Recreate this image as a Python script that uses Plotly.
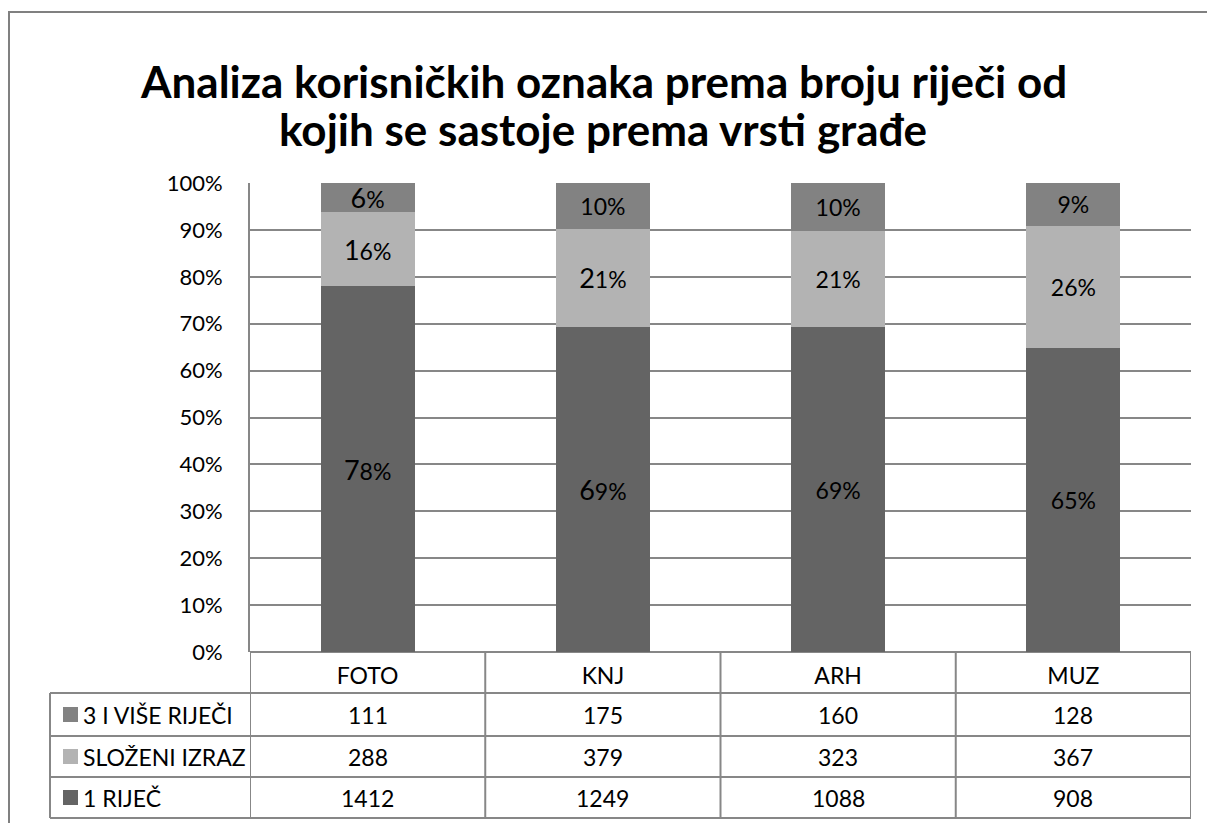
import plotly.graph_objects as go

# Source data: number of user tags by word count, per material type
categories = ["FOTO", "KNJ", "ARH", "MUZ"]
series_names = ["1 RIJEČ", "SLOŽENI IZRAZ", "3 I VIŠE RIJEČI"]
one_word = [1412, 1249, 1088, 908]
compound = [288, 379, 323, 367]
three_plus = [111, 175, 160, 128]
title_lines = ["Analiza korisničkih oznaka prema broju riječi od",
               "kojih se sastoje prema vrsti građe"]

series_values = [one_word, compound, three_plus]
series_colors = ["#646464", "#b3b3b3", "#828282"]

FONT = "Lato"
GRID = "#878787"
TXT = 23
W, H = 1207, 823
L, R, T, B = 250, 16, 183, 171
PW, PH = W - L - R, H - T - B


def px_x(x):
    return (x - L) / PW


def px_y(y):
    return (H - B - y) / PH


totals = [sum(v) for v in zip(*series_values)]

# Labels whose leading digit is set slightly larger
big_first = {(0, 0), (0, 1), (0, 2), (1, 0), (1, 1)}


def label(ci, si, pct):
    s = f"{pct:.0f}%"
    if (ci, si) in big_first:
        return f"<span style='font-size:27px'>{s[0]}</span>{s[1:]}"
    return s


fig = go.Figure()
for si, (name, vals, col) in enumerate(zip(series_names, series_values, series_colors)):
    texts = [label(ci, si, v / t * 100) for ci, (v, t) in enumerate(zip(vals, totals))]
    fig.add_trace(go.Bar(
        x=categories, y=vals, name=name,
        marker=dict(color=col, line=dict(width=0)),
        text=texts, textposition="inside", insidetextanchor="middle",
        textangle=0, constraintext="none",
        textfont=dict(family=FONT, size=TXT, color="#000000"),
        hoverinfo="skip",
    ))

shapes = []
line = dict(color=GRID, width=2)

# Outer chart frame
shapes.append(dict(type="rect", xref="paper", yref="paper",
                   x0=px_x(9), x1=px_x(1230), y0=px_y(840), y1=px_y(12),
                   line=dict(color="#808080", width=2), layer="below"))

# Data table grid
row_lines = [693, 736, 777, 818]
for y in row_lines:
    shapes.append(dict(type="line", xref="paper", yref="paper",
                       x0=px_x(50), x1=1, y0=px_y(y), y1=px_y(y), line=line))
for k in range(len(categories) + 1):
    shapes.append(dict(type="line", xref="x", yref="paper",
                       x0=k - 0.5, x1=k - 0.5, y0=0, y1=px_y(818), line=line))
shapes.append(dict(type="line", xref="paper", yref="paper",
                   x0=px_x(50), x1=px_x(50), y0=px_y(693), y1=px_y(818), line=line))

annotations = []
# Two-line chart title
for text, yc in zip(title_lines, [81, 129]):
    annotations.append(dict(xref="paper", yref="paper", x=px_x(603), y=px_y(yc),
                            text=f"<b>{text}</b>", showarrow=False,
                            xanchor="center", yanchor="middle",
                            font=dict(family=FONT, size=44, color="#000")))

table_rows = list(zip(series_names, series_values, series_colors))[::-1]
for ri, (name, vals, col) in enumerate(table_rows):
    y_top, y_bot = row_lines[ri], row_lines[ri + 1]
    yc = px_y((y_top + y_bot) / 2)
    sq = 15
    shapes.append(dict(type="rect", xref="paper", yref="paper",
                       x0=px_x(63), x1=px_x(63 + sq),
                       y0=yc - sq / 2 / PH, y1=yc + sq / 2 / PH,
                       fillcolor=col, line=dict(width=0)))
    annotations.append(dict(xref="paper", yref="paper", x=px_x(81), y=yc,
                            text=name, showarrow=False, xanchor="left",
                            yanchor="middle",
                            font=dict(family=FONT, size=TXT, color="#000")))
    for cat, v in zip(categories, vals):
        annotations.append(dict(xref="x", yref="paper", x=cat, y=yc,
                                text=str(v), showarrow=False,
                                xanchor="center", yanchor="middle",
                                font=dict(family=FONT, size=TXT, color="#000")))

fig.update_layout(
    width=W, height=H,
    margin=dict(l=L, r=R, t=T, b=B, pad=0),
    paper_bgcolor="white", plot_bgcolor="white",
    barmode="stack", barnorm="percent", bargap=0.6,
    showlegend=False,
    xaxis=dict(
        type="category", showgrid=False, showline=False, zeroline=False,
        ticks="", ticklabelstandoff=8,
        tickfont=dict(family=FONT, size=TXT, color="#000"),
        range=[-0.5, len(categories) - 0.5],
    ),
    yaxis=dict(
        range=[0, 100], dtick=10, ticksuffix="%",
        showgrid=True, gridcolor=GRID, gridwidth=1.5,
        showline=True, linecolor=GRID, linewidth=2,
        zeroline=True, zerolinecolor=GRID, zerolinewidth=2,
        ticks="", ticklabelstandoff=21,
        tickfont=dict(family=FONT, size=22, color="#000"),
    ),
    shapes=shapes,
    annotations=annotations,
)

fig.write_html("out.html")
